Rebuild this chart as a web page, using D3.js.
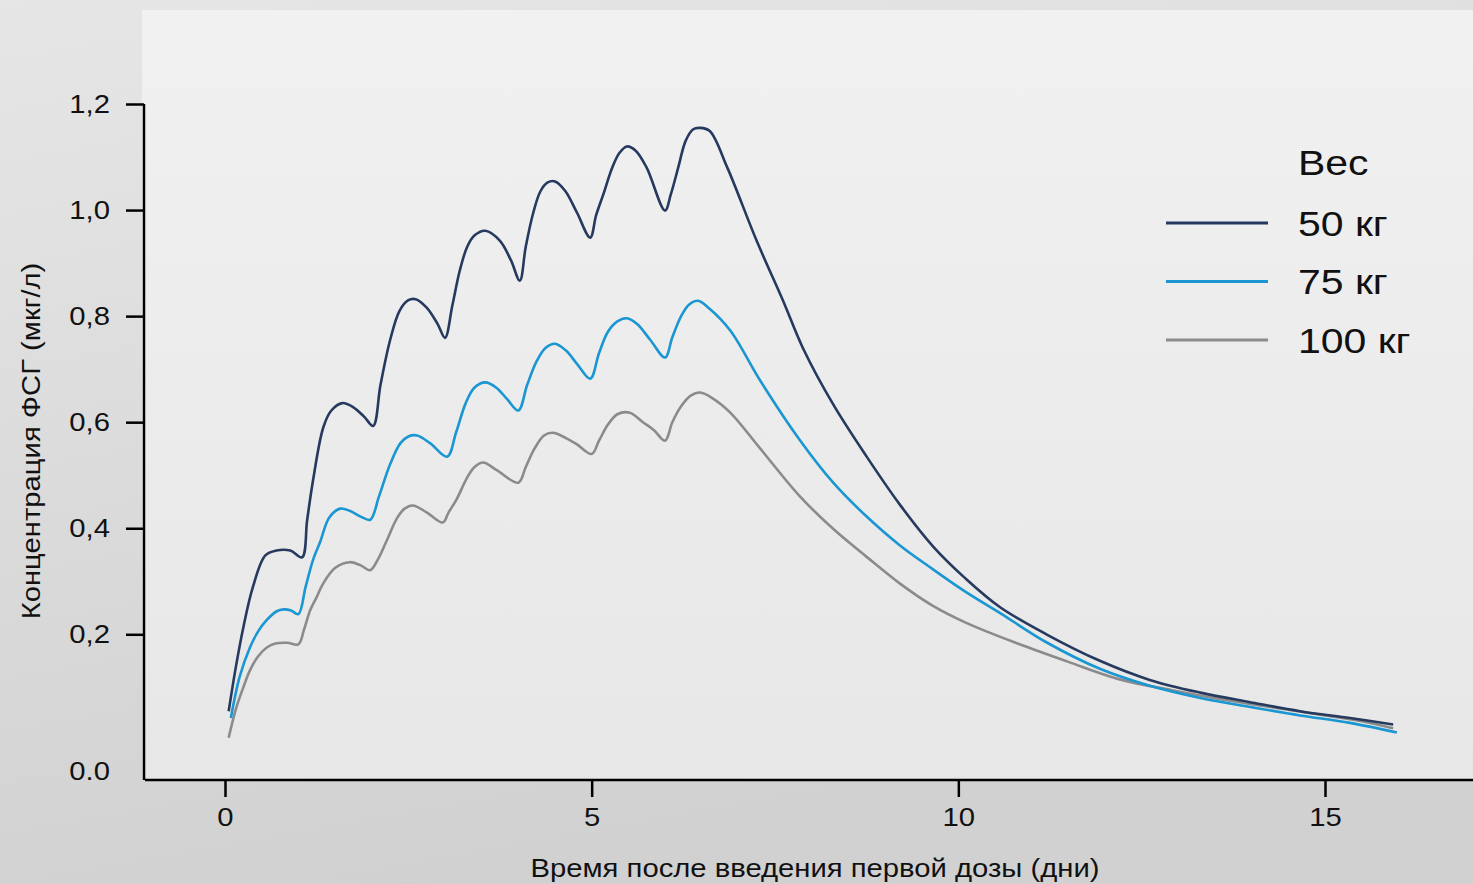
<!DOCTYPE html>
<html>
<head>
<meta charset="utf-8">
<script src="https://cdn.jsdelivr.net/npm/d3@7"></script>
<style>
  html, body { margin: 0; padding: 0; }
  svg { display: block; font-family: "Liberation Sans", Arial, sans-serif; }
</style>
</head>
<body>
<svg id="mysvg" width="1473" height="884"></svg>
<script>
// FSH concentration after first dose, by body weight
let seriesNames = ["50 кг", "75 кг", "100 кг"];
let legendTitle = "Вес";
let xTicks = [0, 5, 10, 15];
let yTicks = [0.2, 0.4, 0.6, 0.8, 1.0, 1.2];
let xTitle = "Время после введения первой дозы (дни)";
let yTitle = "Концентрация ФСГ (мкг/л)";

// [day, value]
let series50 = [
  [0.05,0.055],[0.15,0.14],[0.25,0.213],[0.38,0.289],[0.55,0.349],[0.7,0.358],[0.89,0.358],[1.05,0.345],
  [1.12,0.415],[1.2,0.49],[1.34,0.59],[1.45,0.622],[1.6,0.636],[1.75,0.628],[1.9,0.61],[2.02,0.593],
  [2.12,0.67],[2.25,0.754],[2.38,0.81],[2.5,0.83],[2.6,0.832],[2.75,0.816],[2.9,0.785],[3.0,0.759],
  [3.1,0.82],[3.2,0.885],[3.3,0.93],[3.4,0.952],[3.55,0.961],[3.75,0.942],[3.9,0.905],[4.02,0.867],
  [4.1,0.93],[4.2,0.993],[4.3,1.035],[4.4,1.052],[4.5,1.054],[4.64,1.036],[4.8,0.995],[4.98,0.948],
  [5.06,0.99],[5.16,1.03],[5.28,1.08],[5.38,1.108],[5.48,1.12],[5.6,1.112],[5.75,1.08],[6.0,0.999],
  [6.08,1.03],[6.18,1.08],[6.28,1.13],[6.38,1.152],[6.48,1.155],[6.61,1.149],[6.85,1.08],
  [7.25,0.942],[7.61,0.829],[7.88,0.74],[8.3,0.632],[8.75,0.535],[9.2,0.445],[9.66,0.365],[10.1,0.305],
  [10.57,0.251],[11.2,0.2],[11.93,0.15],[12.61,0.114],[13.3,0.09],[13.98,0.072],[14.66,0.055],[15.34,0.042],[15.93,0.03]
];

let series75 = [
  [0.08,0.042],[0.2,0.12],[0.34,0.175],[0.45,0.205],[0.57,0.227],[0.7,0.243],[0.8,0.247],[0.9,0.245],[1.0,0.238],
  [1.1,0.29],[1.2,0.34],[1.3,0.375],[1.42,0.42],[1.57,0.437],[1.7,0.433],[1.85,0.422],[1.98,0.416],
  [2.1,0.46],[2.25,0.52],[2.39,0.56],[2.5,0.573],[2.62,0.575],[2.8,0.56],[3.03,0.535],
  [3.15,0.58],[3.28,0.635],[3.4,0.665],[3.55,0.675],[3.7,0.665],[3.85,0.643],[4.0,0.622],
  [4.12,0.67],[4.25,0.715],[4.37,0.74],[4.5,0.748],[4.65,0.735],[4.8,0.71],[4.98,0.682],
  [5.1,0.73],[5.22,0.77],[5.35,0.79],[5.48,0.796],[5.62,0.785],[5.8,0.755],[6.0,0.722],
  [6.1,0.76],[6.22,0.8],[6.33,0.822],[6.45,0.829],[6.6,0.815],[6.89,0.773],
  [7.3,0.678],[7.84,0.566],[8.3,0.485],[8.75,0.422],[9.2,0.368],[9.66,0.322],[10.1,0.28],[10.57,0.24],
  [11.2,0.185],[11.93,0.135],[12.61,0.103],[13.3,0.08],[13.98,0.063],[14.66,0.047],[15.34,0.033],[15.98,0.015]
];

let series100 = [
  [0.05,0.005],[0.15,0.06],[0.25,0.1],[0.34,0.132],[0.45,0.158],[0.57,0.175],[0.7,0.183],[0.85,0.184],[1.0,0.181],
  [1.08,0.21],[1.16,0.245],[1.25,0.27],[1.34,0.296],[1.5,0.325],[1.7,0.336],[1.85,0.33],[1.98,0.321],
  [2.08,0.34],[2.2,0.375],[2.35,0.42],[2.45,0.437],[2.56,0.443],[2.75,0.43],[2.97,0.411],
  [3.05,0.43],[3.16,0.455],[3.3,0.495],[3.4,0.515],[3.52,0.524],[3.7,0.51],[4.0,0.486],
  [4.1,0.515],[4.22,0.55],[4.35,0.575],[4.47,0.58],[4.65,0.57],[4.8,0.558],[5.0,0.54],
  [5.1,0.565],[5.22,0.595],[5.35,0.615],[5.52,0.618],[5.7,0.6],[5.85,0.585],[6.0,0.565],
  [6.1,0.6],[6.22,0.63],[6.35,0.65],[6.48,0.656],[6.65,0.645],[6.89,0.618],
  [7.3,0.55],[7.84,0.46],[8.3,0.398],[8.75,0.346],[9.2,0.296],[9.66,0.253],[10.1,0.222],[10.8,0.183],
  [11.5,0.148],[12.2,0.115],[12.9,0.095],[13.6,0.077],[14.3,0.062],[15.0,0.047],[15.5,0.036],[15.93,0.023]
];

let allSeries = [series50, series75, series100];
let colors = ["#26395f", "#1a96d2", "#8b8b8b"];
let hStretch = 1.17; // reference type is set a bit wide

let svg = d3.select('#mysvg');

// backgrounds
let defs = svg.append("defs");
let gOut = defs.append("linearGradient").attr("id", "bgOut").attr("x1", 0).attr("y1", 0).attr("x2", 0.3).attr("y2", 1);
gOut.append("stop").attr("offset", "0%").attr("stop-color", "#e6e6e6");
gOut.append("stop").attr("offset", "100%").attr("stop-color", "#d1d1d1");
let gIn = defs.append("linearGradient").attr("id", "bgIn").attr("x1", 0).attr("y1", 0).attr("x2", 0).attr("y2", 1);
gIn.append("stop").attr("offset", "0%").attr("stop-color", "#f1f1f1");
gIn.append("stop").attr("offset", "100%").attr("stop-color", "#e7e7e7");

svg.append("rect").attr("width", 1473).attr("height", 884).attr("fill", "url(#bgOut)");
svg.append("rect").attr("x", 142).attr("y", 10).attr("width", 1331).attr("height", 770).attr("fill", "url(#bgIn)");

// scales
let x = d3.scaleLinear().domain([0, 15]).range([225, 1325]);
let y = d3.scaleLinear().domain([0.2, 1.2]).range([634.3, 104]);
let yMin = y.invert(780);
let xLeft = x.invert(145);
let xRight = x.invert(1473);

let fmt = d => d3.format(".1f")(d).replace(".", ",");

function stretchText(sel)
{
    sel.each(function() {
        let t = d3.select(this);
        let ax = +t.attr("x") || 0;
        t.attr("transform", "translate(" + ax + ",0) scale(" + hStretch + ",1) translate(" + (-ax) + ",0)");
    });
}

// y axis
let yAxis = svg.append("g")
    .attr("transform", "translate(144,0)")
    .call(d3.axisLeft(y).tickValues(yTicks).tickSize(18).tickSizeOuter(0).tickPadding(16).tickFormat(fmt));
yAxis.select(".domain").attr("d", "M0," + y(1.2) + "V" + y(yMin));
yAxis.selectAll("line, path").attr("stroke", "#000").attr("stroke-width", 2.5);
yAxis.selectAll("text").attr("font-size", 25).attr("fill", "#111").attr("font-family", "Liberation Sans, Arial, sans-serif").call(stretchText);

// bottom "0.0" label sits at axis origin
svg.append("text")
    .attr("x", 110)
    .attr("y", y(yMin) - 9)
    .attr("dy", "0.35em")
    .attr("text-anchor", "end")
    .attr("font-size", 25)
    .attr("fill", "#111")
    .text("0.0")
    .call(stretchText);

// x axis
let xAxis = svg.append("g")
    .attr("transform", "translate(0," + y(yMin) + ")")
    .call(d3.axisBottom(x).tickValues(xTicks).tickSize(17).tickSizeOuter(0).tickPadding(11));
xAxis.select(".domain").attr("d", "M" + x(xLeft) + ",0H" + x(xRight));
xAxis.selectAll("line, path").attr("stroke", "#000").attr("stroke-width", 2.5);
xAxis.selectAll("text").attr("font-size", 25).attr("fill", "#111").attr("font-family", "Liberation Sans, Arial, sans-serif").call(stretchText);

// axis titles
svg.append("text")
    .attr("transform", "translate(815,877) scale(" + hStretch + ",1)")
    .attr("text-anchor", "middle")
    .attr("font-size", 25)
    .attr("fill", "#111")
    .text(xTitle);

svg.append("text")
    .attr("transform", "translate(40,441) rotate(-90) scale(" + hStretch + ",1)")
    .attr("text-anchor", "middle")
    .attr("font-size", 25)
    .attr("fill", "#111")
    .text(yTitle);

// lines
let line = d3.line()
    .x(d => x(d[0]))
    .y(d => y(d[1]))
    .curve(d3.curveCatmullRom.alpha(0.5));

// draw lightest first so dark sits on top
[2, 1, 0].forEach(function(i) {
    svg.append("path")
        .datum(allSeries[i])
        .attr("fill", "none")
        .attr("stroke", colors[i])
        .attr("stroke-width", 2.6)
        .attr("stroke-linejoin", "round")
        .attr("d", line);
});

// legend
let legend = svg.append("g").attr("class", "legend");
legend.append("text")
    .attr("transform", "translate(1298,175) scale(" + hStretch + ",1)")
    .attr("font-size", 35)
    .attr("fill", "#111")
    .text(legendTitle);

let items = legend.selectAll("g.item")
    .data(seriesNames)
    .enter()
    .append("g")
    .attr("class", "item")
    .attr("transform", function(d, i){ return "translate(0," + (223 + i * 58.5) + ")"; });

items.append("line")
    .attr("x1", 1166)
    .attr("x2", 1268)
    .attr("stroke", function(d, i){ return colors[i]; })
    .attr("stroke-width", 3);

items.append("text")
    .attr("transform", "translate(1298,0) scale(" + hStretch + ",1)")
    .attr("dy", "0.36em")
    .attr("font-size", 35)
    .attr("fill", "#111")
    .text(function(d){ return d; });
</script>
</body>
</html>
